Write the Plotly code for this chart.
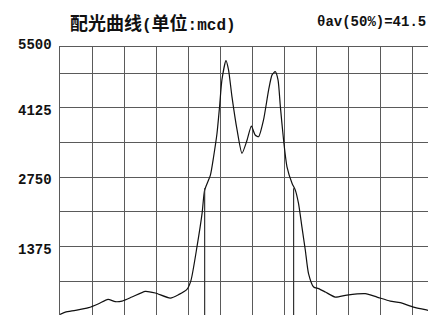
import plotly.graph_objects as go

# Luminous intensity distribution curve (angle in degrees, intensity in mcd)
angles = [-90, -87.5, -82.8, -76.6, -71.9, -67.5, -64.1, -60.9, -56.3, -50.0,
          -45.3, -38.3, -34.4, -30.5, -28.6, -25.8, -23.4, -22.2, -19.5, -18.0,
          -16.4, -15.2, -14.1, -12.2, -11.0, -9.4, -7.0, -4.7, -2.3, -0.3,
          1.5, 3.1, 5.4, 7.8, 9.4, 10.9, 12.2, 13.3, 14.8, 16.4,
          18.8, 20.3, 21.8, 23.4, 25.0, 26.5, 28.9, 31.2, 34.4, 39.0,
          44.5, 53.1, 58.6, 64.8, 69.5, 75.7, 81.2, 85.9]
intensity = [30, 77, 111, 165, 244, 330, 284, 296, 375, 489,
             455, 355, 423, 528, 707, 1368, 2032, 2494, 2792, 3156,
             3620, 4149, 4679, 5062, 4877, 4347, 3686, 3223, 3487, 3765,
             3586, 3553, 3884, 4480, 4778, 4843, 4679, 4148, 3487, 2957,
             2627, 2494, 2230, 1765, 1303, 840, 574, 542, 475, 375,
             415, 443, 375, 296, 264, 177, 125, 77]

# 50% intensity markers
half_angles = [-22.2, 19.5]
half_value = 2531

# axes
x_grid = [-90, -75, -60, -45, -30, -15, 0, 15, 30, 45, 60, 75, 90]
y_grid = [687.5, 1375, 2062.5, 2750, 3437.5, 4125, 4812.5]
y_label_vals = [1375, 2750, 4125, 5330]
y_label_text = ["1375", "2750", "4125", "5500"]

title_cjk = "配光曲线"
title_unit_cjk = "单位"
title_unit_rest = ":mcd"
theta_text = "θav(50%)=41.5"

mono = "Liberation Mono, DejaVu Sans Mono, monospace"
cjk = "Noto Sans CJK SC"

# page layout (body has an 8px offset in the browser)
OFF = 8
PLOT_L, PLOT_T, PLOT_W, PLOT_H = 60, 47, 376, 269


def px(xp):
    return (xp - PLOT_L) / PLOT_W


def py(yp):
    return (PLOT_T + PLOT_H - yp) / PLOT_H


fig = go.Figure()
fig.add_trace(go.Scatter(x=angles, y=intensity, mode="lines",
                         line=dict(color="#111111", width=1.2, shape="spline", smoothing=0.6),
                         hoverinfo="skip", showlegend=False))
for a in half_angles:
    fig.add_trace(go.Scatter(x=[a, a], y=[0, half_value], mode="lines",
                             line=dict(color="#333333", width=1.2),
                             hoverinfo="skip", showlegend=False))

fig.update_xaxes(range=[-90, 86.25], tickvals=x_grid, showticklabels=False,
                 showgrid=True, gridcolor="#5a5a5a", gridwidth=1.4,
                 showline=True, linecolor="#5a5a5a", linewidth=1.4, mirror=True,
                 zeroline=False, ticks="")
fig.update_yaxes(range=[0, 5330], tickvals=y_grid, showticklabels=False,
                 showgrid=True, gridcolor="#5a5a5a", gridwidth=1.4,
                 showline=True, linecolor="#5a5a5a", linewidth=1.4,
                 zeroline=False, ticks="")

for v, t in zip(y_label_vals, y_label_text):
    fig.add_annotation(x=0, xref="paper", y=v, yref="y", text="<b>" + t + "</b>",
                       showarrow=False, xanchor="right", yanchor="middle",
                       xshift=-6, yshift=(-3 if v < 5000 else 2),
                       font=dict(family=mono, size=14, color="#111111"))

span = "<span style='font-size:18px;font-family:" + cjk + "'>"
fig.add_annotation(x=px(68), xref="paper", y=py(22.5), yref="paper",
                   text="<b>" + span + title_cjk + "</span>(" + span + title_unit_cjk
                        + "</span>" + title_unit_rest + ")</b>",
                   showarrow=False, xanchor="left", yanchor="middle",
                   font=dict(family=mono + ", " + cjk, size=16, color="#111111"))
fig.add_annotation(x=px(315), xref="paper", y=py(22.5), yref="paper",
                   text="<b>" + theta_text + "</b>",
                   showarrow=False, xanchor="left", yanchor="middle",
                   font=dict(family=mono, size=14, color="#111111"))

fig.update_layout(width=PLOT_L - OFF + PLOT_W, height=PLOT_T - OFF + PLOT_H,
                  margin=dict(l=PLOT_L - OFF, r=0, t=PLOT_T - OFF, b=0),
                  paper_bgcolor="white", plot_bgcolor="white")
fig.write_html("out.html")
